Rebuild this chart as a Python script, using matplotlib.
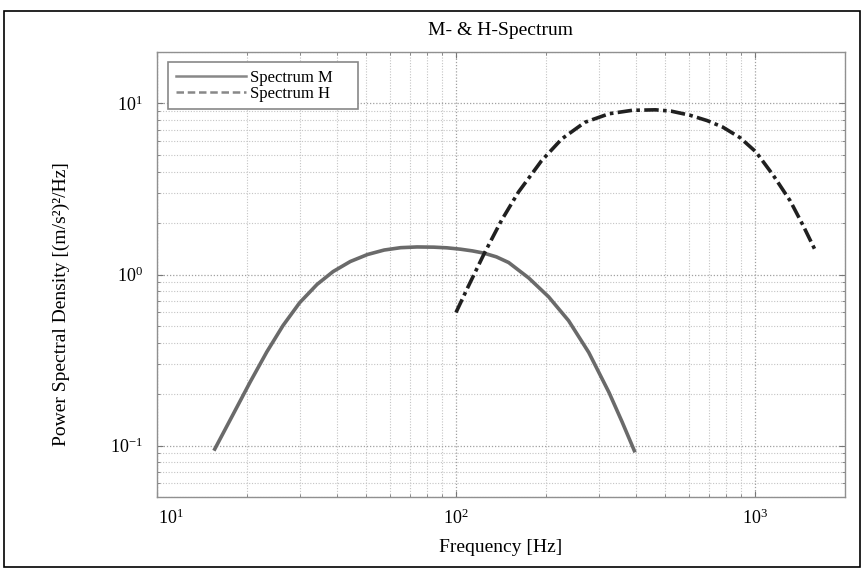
import matplotlib
matplotlib.use("Agg")
import matplotlib.pyplot as plt
from matplotlib.lines import Line2D
from matplotlib.patches import Rectangle
from matplotlib.transforms import ScaledTranslation

plt.rcParams['font.family'] = ['Liberation Serif', 'DejaVu Serif']
plt.rcParams['mathtext.fontset'] = 'custom'
plt.rcParams['mathtext.rm'] = 'Liberation Serif'
plt.rcParams['mathtext.it'] = 'Liberation Serif:italic'

title = "M- & H-Spectrum"
xlabel = "Frequency [Hz]"
ylabel = "Power Spectral Density [(m/s²)²/Hz]"
labels = ["Spectrum M", "Spectrum H"]

freq_m = [15.5, 18.0, 20.5, 23.3, 26.4, 30.0, 34.3, 38.8, 44.3, 50.6, 57.5, 65.3, 74.1,
          84.3, 93.3, 103.5, 113.5, 123.9, 136.5, 150, 175, 204, 238, 278, 325, 359, 397]
psd_m = [0.0933, 0.153, 0.2355, 0.353, 0.5035, 0.684, 0.875, 1.040, 1.191, 1.309, 1.390,
         1.435, 1.449, 1.445, 1.432, 1.406, 1.374, 1.334, 1.268, 1.175, 0.955, 0.741,
         0.537, 0.350, 0.204, 0.138, 0.0912]

freq_h = [100, 109.9, 123.9, 141.9, 161.8, 193.2, 225.9, 269.8, 325.1, 388.2, 464.5,
          524.8, 603.9, 691.8, 779.8, 891.3, 1007, 1151, 1312, 1445, 1592]
psd_h = [0.600, 0.851, 1.312, 2.070, 3.034, 4.624, 6.209, 7.762, 8.710, 9.120, 9.183,
         9.016, 8.551, 7.943, 7.278, 6.310, 5.212, 3.802, 2.692, 1.950, 1.380]

fig = plt.figure(figsize=(8.64, 5.71), dpi=100)
ax = fig.add_axes([157/864, 1-497/571, (845-157)/864, (497-52)/571])

ax.plot(freq_m, psd_m, color='#6a6a6a', lw=2.6, solid_capstyle='butt',
        solid_joinstyle='round')
ax.plot(freq_h, psd_h, color='#202020', lw=2.6, linestyle=(0, (4, 1.2, 1, 1.2)))

ax.set_xscale('log')
ax.set_yscale('log')
ax.set_xlim(10, 2000)
ax.set_ylim(0.05, 20)

ax.grid(True, which='major', linestyle=(0, (1, 1.5)), color='#a0a0a0', lw=0.9)
ax.grid(True, which='minor', linestyle=(0, (1, 1.5)), color='#c4c4c4', lw=0.8)

ax.tick_params(which='both', direction='in', top=True, right=True, color='#777777')
ax.tick_params(which='major', length=4, labelsize=13)
ax.tick_params(axis='x', which='major', pad=8)
ax.tick_params(axis='y', which='major', pad=10)
ax.tick_params(which='minor', length=2.5)
for s in ax.spines.values():
    s.set_color('#909090')
    s.set_linewidth(1.0)

ax.set_title(title, fontsize=14, pad=12)
ax.set_xlabel(xlabel, fontsize=14, labelpad=8)
ax.set_ylabel(ylabel, fontsize=14)
ax.yaxis.set_label_coords(-0.126, (497-304)/445)

fig.canvas.draw()
for lab in ax.get_xticklabels():
    if abs(lab.get_position()[0] - 10) < 1e-6:
        lab.set_transform(lab.get_transform() + ScaledTranslation(14/100, 0, fig.dpi_scale_trans))

handles = [Line2D([], [], color='#888888', lw=1.8),
           Line2D([], [], color='#888888', lw=1.8, linestyle=(0, (3, 1.5)))]
leg = ax.legend(handles, labels, loc='upper left', fontsize=12, frameon=True,
                fancybox=False, edgecolor='#888888', framealpha=1,
                bbox_to_anchor=(11/688, 1-10/445-45/445, 190/688, 45/445),
                mode='expand', borderaxespad=0.0, handlelength=4.2,
                labelspacing=0.0, handletextpad=0.25, borderpad=0.45)
leg.get_frame().set_linewidth(1.2)

fig.patches.append(Rectangle((4/864, 4/571), 856/864, 556/571, transform=fig.transFigure,
                             fill=False, edgecolor='black', lw=1.2))

fig.savefig("out.png", dpi=100)
